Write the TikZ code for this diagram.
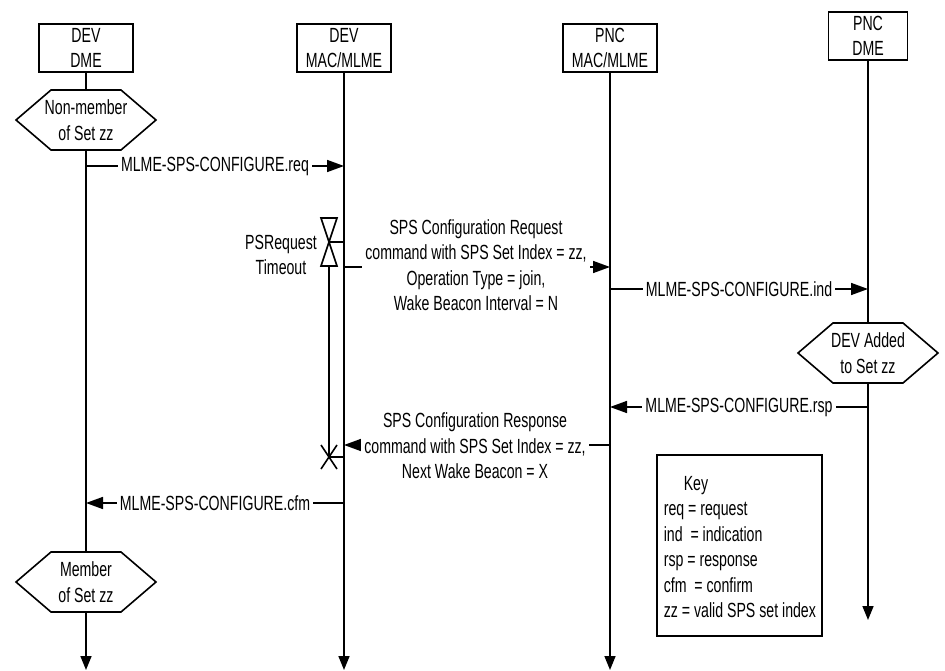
\documentclass[tikz,border=0pt]{standalone}
\usepackage{fontspec}
\setmainfont[FakeStretch=0.69]{Liberation Sans}
\usetikzlibrary{arrows.meta,calc}
\newcommand\hexnode[4]{%
  \node[align=center, inner sep=0pt] (#1) at (#2,#3) {#4};
  \draw (#2-70,#3) -- (#2-35,#3-30) -- (#2+35,#3-30) -- (#2+70,#3) -- (#2+35,#3+30) -- (#2-35,#3+30) -- cycle;
  \coordinate (#1-top) at (#2,#3-30);
  \coordinate (#1-bot) at (#2,#3+30);}
\begin{document}
\begin{tikzpicture}[x=1pt,y=-1pt, line width=1.6pt,
  every node/.style={font=\fontsize{20.5}{25.5}\selectfont},
  lifebox/.style={draw, minimum width=94pt, minimum height=48pt, align=center, inner sep=0pt},
  msg/.style={-{Triangle[length=17pt,width=12pt]}},
  life/.style={-{Triangle[length=14pt,width=11pt]}},
  lbl/.style={fill=white, inner xsep=3pt, inner ysep=0pt, align=center},
]
\useasboundingbox (0,0) rectangle (945,671);

% entity boxes
\node[lifebox] (devdme) at (86,48) {DEV\\DME};
\node[lifebox] (devmac) at (344,48) {DEV\\MAC/MLME};
\node[lifebox] (pncmac) at (610,48) {PNC\\MAC/MLME};
\node[lifebox, minimum width=79pt] (pncdme) at (868,36) {PNC\\DME};

% state hexagons
\hexnode{nm}{86}{120}{Non-member\\of Set zz}
\hexnode{da}{868}{353}{DEV Added\\to Set zz}
\hexnode{mb}{86}{582}{Member\\of Set zz}

% lifeline ends
\coordinate (devdme-end) at (86,670);
\coordinate (devmac-end) at (344,670);
\coordinate (pncmac-end) at (610,670);
\coordinate (pncdme-end) at (868,620);

% lifelines
\draw (devdme.south) -- (nm-top);
\draw (nm-bot) -- (mb-top);
\draw[life] (mb-bot) -- (devdme-end);
\draw[life] (devmac.south) -- (devmac-end);
\draw[life] (pncmac.south) -- (pncmac-end);
\draw (pncdme.south) -- (da-top);
\draw[life] (da-bot) -- (pncdme-end);

% message end points
\coordinate (req-a) at (86,166);   \coordinate (req-b) at (344,166);
\coordinate (crq-a) at (344,267);  \coordinate (crq-b) at (610,267);
\coordinate (ind-a) at (610,289);  \coordinate (ind-b) at (868,289);
\coordinate (rsp-a) at (868,407);  \coordinate (rsp-b) at (610,407);
\coordinate (crs-a) at (610,445);  \coordinate (crs-b) at (344,445);
\coordinate (cfm-a) at (344,503);  \coordinate (cfm-b) at (86,503);

% messages
\draw[msg] (req-a) -- (req-b) node[midway, lbl] (reqlbl) {MLME-SPS-CONFIGURE.req};
\draw[msg] (crq-a) -- (crq-b);
\node[lbl] (crqlbl) at (476,265) {SPS Configuration Request\\command with SPS Set Index = zz,\\Operation Type = join,\\Wake Beacon Interval = N};
\draw[msg] (ind-a) -- (ind-b) node[midway, lbl] (indlbl) {MLME-SPS-CONFIGURE.ind};
\draw[msg] (rsp-a) -- (rsp-b) node[midway, lbl] (rsplbl) {MLME-SPS-CONFIGURE.rsp};
\draw[msg] (crs-a) -- (crs-b);
\node[lbl] (crslbl) at (475,446) {SPS Configuration Response\\command with SPS Set Index = zz,\\Next Wake Beacon = X};
\draw[msg] (cfm-a) -- (cfm-b) node[midway, lbl] (cfmlbl) {MLME-SPS-CONFIGURE.cfm};

% timer
\coordinate (tmr-mid) at (329,242);
\coordinate (tmr-l) at (344,242);
\coordinate (tmr-bot) at (329,266);
\coordinate (tmr-end) at (329,457);
\coordinate (tmr-endl) at (344,457);
\draw (321,218) -- (337,218) -- (321,266) -- (337,266) -- cycle;
\draw (tmr-mid) -- (tmr-l);
\draw (tmr-bot) -- (tmr-end);
\draw (321,445) -- (337,469) (337,445) -- (321,469);
\draw (tmr-end) -- (tmr-endl);
\node[align=center, inner sep=0pt] (tmrlbl) at (281,255) {PSRequest\\Timeout};

% key
\node[draw, minimum width=165pt, minimum height=181pt, inner sep=0pt] (key) at (739.5,545.5) {};
\node[align=left, inner sep=0pt, anchor=west] (keytxt) at (663,547) {\hspace*{20pt}Key\\req = request\\ind\ \ = indication\\rsp = response\\cfm\ \ = confirm\\zz = valid SPS set index};
\end{tikzpicture}
\end{document}
